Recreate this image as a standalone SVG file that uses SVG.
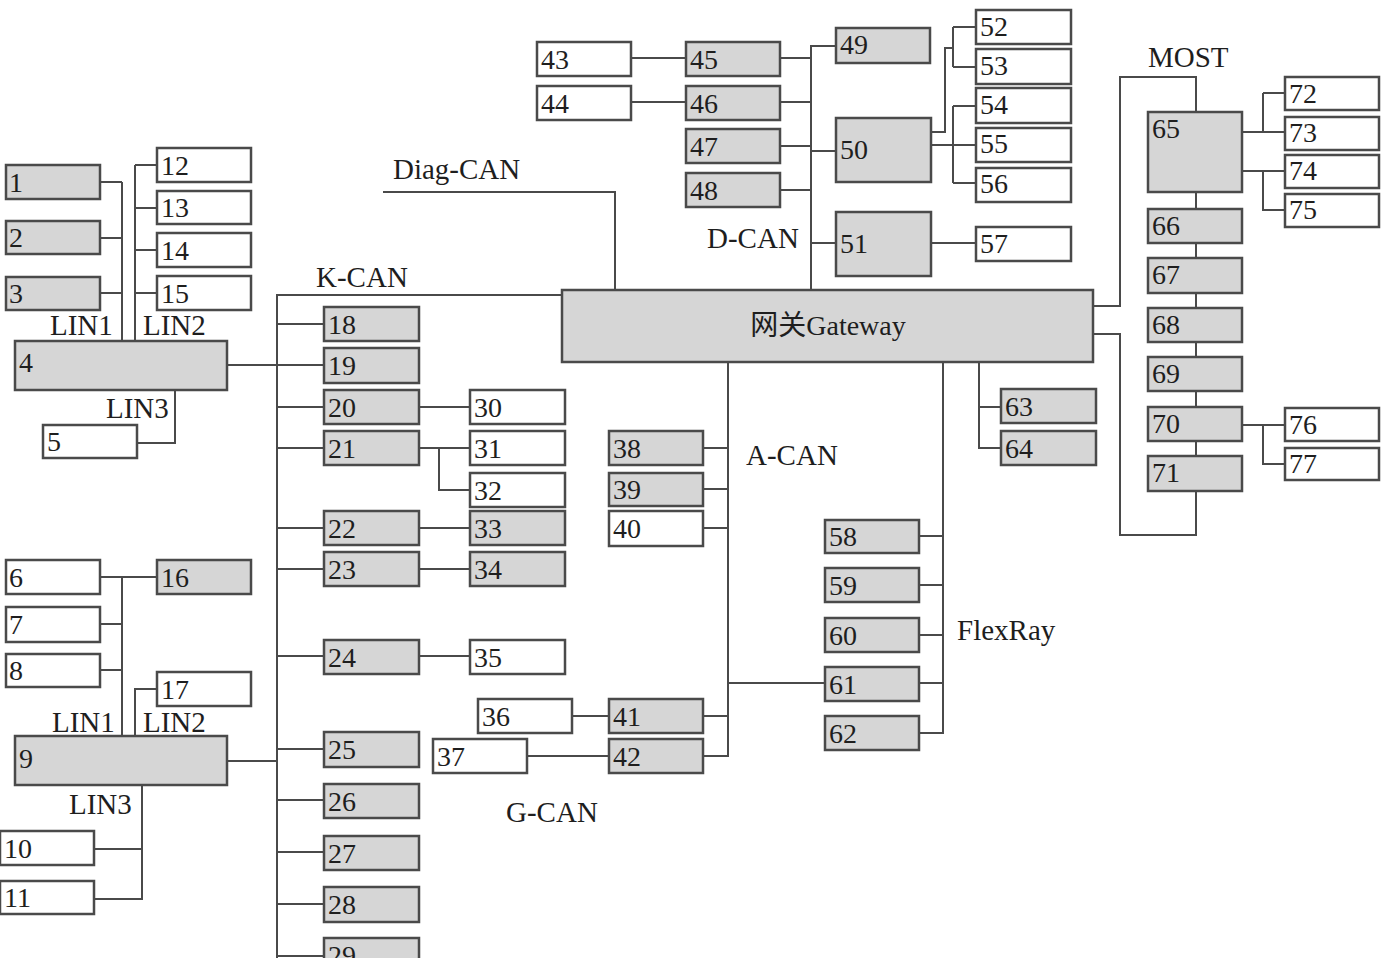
<svg xmlns="http://www.w3.org/2000/svg" width="1382" height="958" viewBox="0 0 1382 958">
<style>
.g{fill:#d6d6d6;stroke:#4a4a4a;stroke-width:2.5}
.w{fill:#ffffff;stroke:#4a4a4a;stroke-width:2.5}
.t{font-family:"Liberation Serif","Times New Roman",serif;font-size:28px;fill:#1e1e1e}
.l{font-family:"Liberation Serif","Times New Roman",serif;font-size:29px;fill:#1e1e1e}
.c path{fill:none;stroke:#4a4a4a;stroke-width:2}
</style>
<rect width="1382" height="958" fill="#ffffff"/>
<g class="c" id="connectors">
<path d="M100,182H122M100,238H122M100,293H122M122,182V341"/>
<path d="M135,165V341M135,165H157M135,208H157M135,250H157M135,293H157"/>
<path d="M175,390V443H137"/>
<path d="M227,365H324"/>
<path d="M562,295H277V958"/>
<path d="M277,324H324M277,407H324M277,448H324M277,528H324M277,569H324M277,656H324M277,749H324M277,800H324M277,852H324M277,904H324M277,956H324"/>
<path d="M419,407H470M419,448H470M439,448V490H470M419,528H470M419,569H470M419,656H470"/>
<path d="M100,577H157M122,577V736M100,624H122M100,670H122"/>
<path d="M135,736V689H157"/>
<path d="M142,785V899H94M94,849H142"/>
<path d="M227,761H277"/>
<path d="M383,192H615V290"/>
<path d="M811,290V46H836M631,58H686M631,102H686M780,58H811M780,102H811M780,146H811M780,190H811M811,151H836M811,243H836"/>
<path d="M931,132H945V48H953M953,27V67M953,27H976M953,67H976M931,145H976M953,106V183M953,106H976M953,183H976M931,243H976"/>
<path d="M1093,306H1120V77H1196V112M1093,334H1120V535H1196V491"/>
<path d="M1196,192V209M1196,243V258M1196,293V308M1196,342V357M1196,391V407M1196,441V456"/>
<path d="M1242,132H1285M1263,93V132M1263,93H1285M1242,171H1285M1263,171V210H1285M1242,425H1285M1263,425V464H1285"/>
<path d="M979,362V448H1001M979,407H1001"/>
<path d="M728,362V756H703M703,448H728M703,489H728M703,528H728M703,716H728M728,683H825"/>
<path d="M572,716H609M527,756H609"/>
<path d="M943,362V733H919M919,536H943M919,585H943M919,635H943M919,683H943"/>
</g>
<g id="labels">
<text class="l" x="393" y="179">Diag-CAN</text>
<text class="l" x="316" y="287">K-CAN</text>
<text class="l" x="707" y="248">D-CAN</text>
<text class="l" x="746" y="465">A-CAN</text>
<text class="l" x="1148" y="67">MOST</text>
<text class="l" x="957" y="640">FlexRay</text>
<text class="l" x="506" y="822">G-CAN</text>
<text class="l" x="50" y="335">LIN1</text>
<text class="l" x="143" y="335">LIN2</text>
<text class="l" x="106" y="418">LIN3</text>
<text class="l" x="52" y="732">LIN1</text>
<text class="l" x="143" y="732">LIN2</text>
<text class="l" x="69" y="814">LIN3</text>
</g>
<g id="gateway"><rect class="g" x="562" y="290" width="531" height="72"/><text x="828" y="335" text-anchor="middle" style="font-family:'Liberation Serif','Noto Sans CJK SC',serif;font-size:28px;fill:#1e1e1e">网关Gateway</text></g>
<g id="n1"><rect class="g" x="6" y="165" width="94" height="34"/><text class="t" x="9" y="192">1</text></g>
<g id="n2"><rect class="g" x="6" y="221" width="94" height="33"/><text class="t" x="9" y="247">2</text></g>
<g id="n3"><rect class="g" x="6" y="277" width="94" height="33"/><text class="t" x="9" y="303">3</text></g>
<g id="n4"><rect class="g" x="15" y="341" width="212" height="49"/><text class="t" x="19" y="372">4</text></g>
<g id="n5"><rect class="w" x="43" y="425" width="94" height="33"/><text class="t" x="47" y="451">5</text></g>
<g id="n6"><rect class="w" x="6" y="560" width="94" height="34"/><text class="t" x="9" y="587">6</text></g>
<g id="n7"><rect class="w" x="6" y="607" width="94" height="35"/><text class="t" x="9" y="634">7</text></g>
<g id="n8"><rect class="w" x="6" y="654" width="94" height="33"/><text class="t" x="9" y="680">8</text></g>
<g id="n9"><rect class="g" x="15" y="736" width="212" height="49"/><text class="t" x="19" y="768">9</text></g>
<g id="n10"><rect class="w" x="0" y="831" width="94" height="34"/><text class="t" x="4" y="858">10</text></g>
<g id="n11"><rect class="w" x="0" y="881" width="94" height="33"/><text class="t" x="4" y="907">11</text></g>
<g id="n12"><rect class="w" x="157" y="148" width="94" height="34"/><text class="t" x="161" y="175">12</text></g>
<g id="n13"><rect class="w" x="157" y="191" width="94" height="33"/><text class="t" x="161" y="217">13</text></g>
<g id="n14"><rect class="w" x="157" y="233" width="94" height="34"/><text class="t" x="161" y="260">14</text></g>
<g id="n15"><rect class="w" x="157" y="276" width="94" height="34"/><text class="t" x="161" y="303">15</text></g>
<g id="n16"><rect class="g" x="157" y="560" width="94" height="34"/><text class="t" x="161" y="587">16</text></g>
<g id="n17"><rect class="w" x="157" y="672" width="94" height="34"/><text class="t" x="161" y="699">17</text></g>
<g id="n18"><rect class="g" x="324" y="307" width="95" height="34"/><text class="t" x="328" y="334">18</text></g>
<g id="n19"><rect class="g" x="324" y="348" width="95" height="35"/><text class="t" x="328" y="375">19</text></g>
<g id="n20"><rect class="g" x="324" y="390" width="95" height="34"/><text class="t" x="328" y="417">20</text></g>
<g id="n21"><rect class="g" x="324" y="431" width="95" height="34"/><text class="t" x="328" y="458">21</text></g>
<g id="n22"><rect class="g" x="324" y="511" width="95" height="34"/><text class="t" x="328" y="538">22</text></g>
<g id="n23"><rect class="g" x="324" y="552" width="95" height="34"/><text class="t" x="328" y="579">23</text></g>
<g id="n24"><rect class="g" x="324" y="640" width="95" height="34"/><text class="t" x="328" y="667">24</text></g>
<g id="n25"><rect class="g" x="324" y="732" width="95" height="35"/><text class="t" x="328" y="759">25</text></g>
<g id="n26"><rect class="g" x="324" y="784" width="95" height="34"/><text class="t" x="328" y="811">26</text></g>
<g id="n27"><rect class="g" x="324" y="836" width="95" height="34"/><text class="t" x="328" y="863">27</text></g>
<g id="n28"><rect class="g" x="324" y="887" width="95" height="35"/><text class="t" x="328" y="914">28</text></g>
<g id="n29"><rect class="g" x="324" y="938" width="95" height="34"/><text class="t" x="328" y="965">29</text></g>
<g id="n30"><rect class="w" x="470" y="390" width="95" height="34"/><text class="t" x="474" y="417">30</text></g>
<g id="n31"><rect class="w" x="470" y="431" width="95" height="34"/><text class="t" x="474" y="458">31</text></g>
<g id="n32"><rect class="w" x="470" y="473" width="95" height="34"/><text class="t" x="474" y="500">32</text></g>
<g id="n33"><rect class="g" x="470" y="511" width="95" height="34"/><text class="t" x="474" y="538">33</text></g>
<g id="n34"><rect class="g" x="470" y="552" width="95" height="34"/><text class="t" x="474" y="579">34</text></g>
<g id="n35"><rect class="w" x="470" y="640" width="95" height="34"/><text class="t" x="474" y="667">35</text></g>
<g id="n36"><rect class="w" x="478" y="699" width="94" height="34"/><text class="t" x="482" y="726">36</text></g>
<g id="n37"><rect class="w" x="433" y="739" width="94" height="34"/><text class="t" x="437" y="766">37</text></g>
<g id="n38"><rect class="g" x="609" y="431" width="94" height="34"/><text class="t" x="613" y="458">38</text></g>
<g id="n39"><rect class="g" x="609" y="473" width="94" height="33"/><text class="t" x="613" y="499">39</text></g>
<g id="n40"><rect class="w" x="609" y="511" width="94" height="35"/><text class="t" x="613" y="538">40</text></g>
<g id="n41"><rect class="g" x="609" y="699" width="94" height="34"/><text class="t" x="613" y="726">41</text></g>
<g id="n42"><rect class="g" x="609" y="739" width="94" height="34"/><text class="t" x="613" y="766">42</text></g>
<g id="n43"><rect class="w" x="537" y="42" width="94" height="34"/><text class="t" x="541" y="69">43</text></g>
<g id="n44"><rect class="w" x="537" y="86" width="94" height="34"/><text class="t" x="541" y="113">44</text></g>
<g id="n45"><rect class="g" x="686" y="42" width="94" height="34"/><text class="t" x="690" y="69">45</text></g>
<g id="n46"><rect class="g" x="686" y="86" width="94" height="34"/><text class="t" x="690" y="113">46</text></g>
<g id="n47"><rect class="g" x="686" y="129" width="94" height="34"/><text class="t" x="690" y="156">47</text></g>
<g id="n48"><rect class="g" x="686" y="173" width="94" height="34"/><text class="t" x="690" y="200">48</text></g>
<g id="n49"><rect class="g" x="836" y="28" width="94" height="35"/><text class="t" x="840" y="54">49</text></g>
<g id="n50"><rect class="g" x="836" y="118" width="95" height="64"/><text class="t" x="840" y="159">50</text></g>
<g id="n51"><rect class="g" x="836" y="212" width="95" height="64"/><text class="t" x="840" y="253">51</text></g>
<g id="n52"><rect class="w" x="976" y="10" width="95" height="34"/><text class="t" x="980" y="36">52</text></g>
<g id="n53"><rect class="w" x="976" y="49" width="95" height="35"/><text class="t" x="980" y="75">53</text></g>
<g id="n54"><rect class="w" x="976" y="88" width="95" height="35"/><text class="t" x="980" y="114">54</text></g>
<g id="n55"><rect class="w" x="976" y="128" width="95" height="34"/><text class="t" x="980" y="153">55</text></g>
<g id="n56"><rect class="w" x="976" y="168" width="95" height="34"/><text class="t" x="980" y="193">56</text></g>
<g id="n57"><rect class="w" x="976" y="227" width="95" height="34"/><text class="t" x="980" y="253">57</text></g>
<g id="n58"><rect class="g" x="825" y="520" width="94" height="33"/><text class="t" x="829" y="546">58</text></g>
<g id="n59"><rect class="g" x="825" y="568" width="94" height="34"/><text class="t" x="829" y="595">59</text></g>
<g id="n60"><rect class="g" x="825" y="618" width="94" height="34"/><text class="t" x="829" y="645">60</text></g>
<g id="n61"><rect class="g" x="825" y="667" width="94" height="34"/><text class="t" x="829" y="694">61</text></g>
<g id="n62"><rect class="g" x="825" y="716" width="94" height="34"/><text class="t" x="829" y="743">62</text></g>
<g id="n63"><rect class="g" x="1001" y="389" width="95" height="34"/><text class="t" x="1005" y="416">63</text></g>
<g id="n64"><rect class="g" x="1001" y="431" width="95" height="34"/><text class="t" x="1005" y="458">64</text></g>
<g id="n65"><rect class="g" x="1148" y="112" width="94" height="80"/><text class="t" x="1152" y="138">65</text></g>
<g id="n66"><rect class="g" x="1148" y="209" width="94" height="34"/><text class="t" x="1152" y="235">66</text></g>
<g id="n67"><rect class="g" x="1148" y="258" width="94" height="35"/><text class="t" x="1152" y="284">67</text></g>
<g id="n68"><rect class="g" x="1148" y="308" width="94" height="34"/><text class="t" x="1152" y="334">68</text></g>
<g id="n69"><rect class="g" x="1148" y="357" width="94" height="34"/><text class="t" x="1152" y="383">69</text></g>
<g id="n70"><rect class="g" x="1148" y="407" width="94" height="34"/><text class="t" x="1152" y="433">70</text></g>
<g id="n71"><rect class="g" x="1148" y="456" width="94" height="35"/><text class="t" x="1152" y="482">71</text></g>
<g id="n72"><rect class="w" x="1285" y="77" width="94" height="33"/><text class="t" x="1289" y="103">72</text></g>
<g id="n73"><rect class="w" x="1285" y="117" width="94" height="33"/><text class="t" x="1289" y="142">73</text></g>
<g id="n74"><rect class="w" x="1285" y="155" width="94" height="33"/><text class="t" x="1289" y="180">74</text></g>
<g id="n75"><rect class="w" x="1285" y="194" width="94" height="33"/><text class="t" x="1289" y="219">75</text></g>
<g id="n76"><rect class="w" x="1285" y="408" width="94" height="33"/><text class="t" x="1289" y="434">76</text></g>
<g id="n77"><rect class="w" x="1285" y="448" width="94" height="32"/><text class="t" x="1289" y="473">77</text></g>
</svg>
